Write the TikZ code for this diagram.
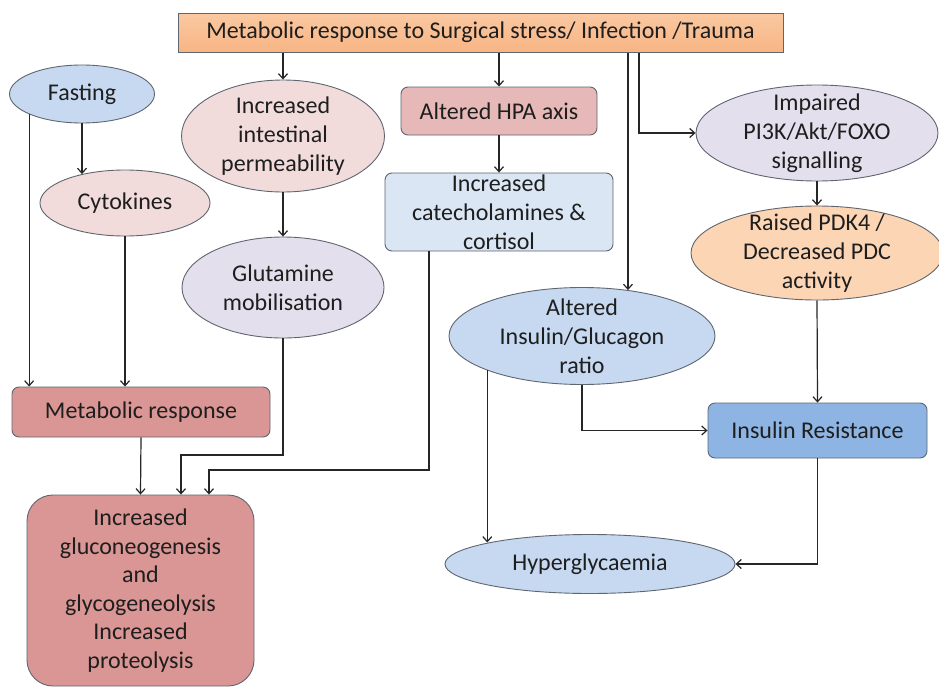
\documentclass[tikz,border=0pt]{standalone}
\usepackage{fontspec}
\setmainfont{Carlito}
\usetikzlibrary{arrows.meta,shapes.geometric}
\definecolor{cTopA}{HTML}{FAC8A2}
\definecolor{cTopM}{HTML}{FEE8D6}
\definecolor{cTopB}{HTML}{F8B584}
\definecolor{cBlue}{HTML}{C6D9F1}
\definecolor{cPink}{HTML}{F2DCDB}
\definecolor{cLav}{HTML}{E4DFEC}
\definecolor{cSalm}{HTML}{E6B9B8}
\definecolor{cLBlue}{HTML}{DAE6F4}
\definecolor{cOrg}{HTML}{FCD5B5}
\definecolor{cRed}{HTML}{D99694}
\definecolor{cMBlue}{HTML}{8EB4E3}
\definecolor{cTxt}{HTML}{1E1E1E}
\definecolor{cLine}{HTML}{5F6670}
\begin{document}
\begin{tikzpicture}[x=1pt,y=-1pt,
  every node/.style={font=\fontsize{24}{29}\selectfont, align=center, text=cTxt, inner sep=0pt},
  ell/.style={ellipse, draw=cLine, line width=0.9pt},
  rbox/.style={rectangle, rounded corners=7pt, draw=cLine, line width=0.9pt},
  arr/.style={-{Straight Barb[length=5pt,width=9pt]}, line width=1.2pt, draw=black!85}]
\useasboundingbox (0,0) rectangle (939,688);
\fill[white] (0,0) rectangle (939,688);

% top box
\node[rectangle, draw=cLine, line width=1pt, top color=cTopA, middle color=cTopM, bottom color=cTopB,
      minimum width=605, minimum height=39] (top) at (480.5,32.5)
      {Metabolic response to Surgical stress/ Infection /Trauma};

% left column
\node[ell, fill=cBlue, minimum width=145, minimum height=58, label={center:{Fasting}}] (fast) at (82,94) {};
\node[ell, fill=cPink, minimum width=170, minimum height=66, label={center:{Cytokines}}] (cyt) at (125,203) {};
\node[rbox, fill=cRed, minimum width=258, minimum height=50] (mr) at (141,412) {Metabolic response};
\node[rectangle, rounded corners=26pt, draw=cLine, line width=0.9pt, fill=cRed, minimum width=227, minimum height=191,
      label={[font=\fontsize{24}{28.5}\selectfont]center:{Increased\\gluconeogenesis\\and\\glycogeneolysis\\Increased\\proteolysis}}] (gl) at (140.5,590.5) {};

% second column
\node[ell, fill=cPink, minimum width=203, minimum height=112,
      label={center:{Increased\\intestinal\\permeability}}] (perm) at (283,136) {};
\node[ell, fill=cLav, minimum width=202, minimum height=101,
      label={center:{Glutamine\\mobilisation}}] (glut) at (283,287.5) {};

% third column
\node[rbox, fill=cSalm, minimum width=196, minimum height=48] (hpa) at (499,111) {Altered HPA axis};
\node[rbox, fill=cLBlue, minimum width=228, minimum height=78,
      label={center:{Increased\\catecholamines \&\\cortisol}}] (cat) at (499,212) {};
\node[ell, fill=cBlue, minimum width=266, minimum height=97,
      label={center:{Altered\\Insulin/Glucagon\\ratio}}] (ig) at (582,336) {};
\node[ell, fill=cBlue, minimum width=290, minimum height=59, label={center:{Hyperglycaemia}}] (hyp) at (590,564) {};

% right column
\node[ell, fill=cLav, minimum width=242, minimum height=96,
      label={center:{Impaired\\PI3K/Akt/FOXO\\signalling}}] (pi) at (817,133) {};
\node[ell, fill=cOrg, minimum width=252, minimum height=94,
      label={center:{Raised PDK4 /\\Decreased PDC\\activity}}] (pdk) at (817,253) {};
\node[rbox, fill=cMBlue, minimum width=219, minimum height=55] (ir) at (817.5,430.5) {Insulin Resistance};

% helper coordinates
\coordinate (c2) at (639,0);
\coordinate (c4) at (429,0);
\coordinate (j1) at (181,455);
\coordinate (j2) at (209,470);

% connectors
\draw[arr] (perm.north |- top.south) -- (perm.north);
\draw[arr] (hpa.north |- top.south) -- (hpa.north);
\draw[arr] (top.south -| ig.45) -- (ig.45);
\draw[arr] (top.south -| c2) |- (pi.west);
\draw[arr] (fast.south) -- (fast.south |- cyt.146);
\draw[arr] (fast.201) -- (fast.201 |- mr.north);
\draw[arr] (cyt.south) -- (cyt.south |- mr.north);
\draw[arr] (perm.south) -- (glut.north);
\draw[arr] (hpa.south) -- (cat.north);
\draw[arr] (pi.south) -- (pdk.north);
\draw[arr] (pdk.south) -- (ir.north);
\draw[arr] (ig.south) |- (ir.west);
\draw[arr] (ig.200) -- (ig.200 |- hyp.168);
\draw[arr] (ir.south) |- (hyp.east);
\draw[arr] (mr.south) -- (gl.north);
\draw[arr] (glut.south) |- (j1) -- (j1 |- gl.north);
\draw[arr] (c4 |- cat.south) |- (j2) -- (j2 |- gl.north);
\end{tikzpicture}
\end{document}
